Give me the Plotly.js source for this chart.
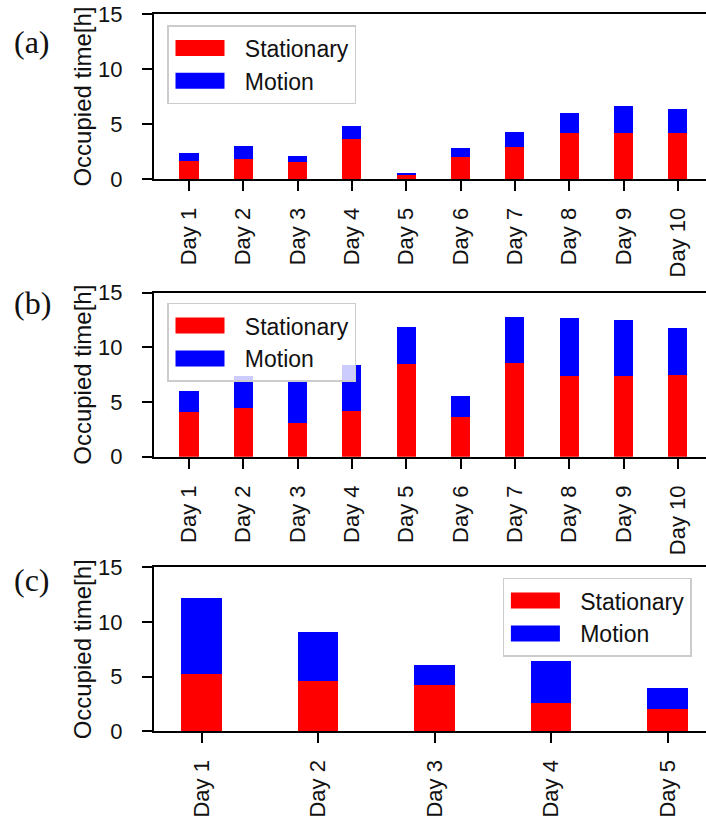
<!DOCTYPE html>
<html><head><meta charset="utf-8">
<script src="https://cdn.plot.ly/plotly-3.0.1.min.js"></script>
<style>
html,body{margin:0;padding:0;background:#fff;overflow:hidden}
#chart{width:706px;height:823px}
g.legendpoints path{ d: path("M17.7,8H-31.3V-8H17.7Z"); }
</style></head>
<body><div id="chart"></div>
<script>
// ---- data ----
const days10 = ['Day 1','Day 2','Day 3','Day 4','Day 5','Day 6','Day 7','Day 8','Day 9','Day 10'];
const days5 = ['Day 1','Day 2','Day 3','Day 4','Day 5'];
const seriesNames = ['Stationary','Motion'];
const aStationary = [1.65, 1.83, 1.55, 3.64, 0.36, 2.03, 2.94, 4.21, 4.21, 4.21];
const aMotion     = [0.68, 1.20, 0.51, 1.18, 0.16, 0.82, 1.30, 1.79, 2.40, 2.12];
const bStationary = [4.12, 4.42, 3.11, 4.21, 8.51, 3.63, 8.60, 7.41, 7.41, 7.50];
const bMotion     = [1.89, 2.99, 3.84, 4.18, 3.39, 1.89, 4.21, 5.28, 5.10, 4.30];
const cStationary = [5.21, 4.57, 4.24, 2.56, 2.07];
const cMotion     = [6.99, 4.51, 1.83, 3.87, 1.86];
const yTicks = [0, 5, 10, 15];
const panelLabels = ['(a)','(b)','(c)'];
const yTitle = 'Occupied time[h]';

// ---- styles ----
const RED = '#ff0000', BLUE = '#0000ff';
const SANS = 'Liberation Sans, Arial, sans-serif';
const SERIF = 'Liberation Serif, Times New Roman, serif';
const BARW = 0.35;
const PATCH = 'M17.7,8H-31.3V-8H17.7Z';

const panels = [
  {cats: days10, st: aStationary, mo: aMotion, xa: 'x',  ya: 'y',  lg: 'legend'},
  {cats: days10, st: bStationary, mo: bMotion, xa: 'x2', ya: 'y2', lg: 'legend2'},
  {cats: days5,  st: cStationary, mo: cMotion, xa: 'x3', ya: 'y3', lg: 'legend3'}
];

const traces = [];
panels.forEach(p => {
  traces.push({type:'bar', x:p.cats, y:p.st, name:seriesNames[0], xaxis:p.xa, yaxis:p.ya,
    legend:p.lg, width:BARW, marker:{color:RED, line:{width:0}}, hoverinfo:'y'});
  traces.push({type:'bar', x:p.cats, y:p.mo, name:seriesNames[1], xaxis:p.xa, yaxis:p.ya,
    legend:p.lg, width:BARW, marker:{color:BLUE, line:{width:0}}, hoverinfo:'y'});
});

function xAxis(range, anchor){
  return {type:'category', range:range, anchor:anchor, domain:[0,1],
    showline:true, mirror:true, linecolor:'#000', linewidth:2,
    ticks:'outside', ticklen:10, tickwidth:2, tickcolor:'#000',
    tickangle:-90, ticklabelstandoff:8,
    tickfont:{family:SANS, size:22, color:'#111'},
    showgrid:false, zeroline:false, fixedrange:true};
}
function yAxis(domain, anchor){
  return {domain:domain, anchor:anchor, range:[0,15], tickvals:yTicks,
    showline:true, mirror:false, linecolor:'#000', linewidth:2,
    ticks:'outside', ticklen:10, tickwidth:2, tickcolor:'#000', ticklabelstandoff:15,
    tickfont:{family:SANS, size:22, color:'#111'},
    title:{text:yTitle, font:{family:SANS, size:24, color:'#111'}, standoff:0},
    showgrid:false, zeroline:false, fixedrange:true};
}
function legendCfg(x, y){
  return {x:x, y:y, xanchor:'left', yanchor:'top', xref:'paper', yref:'paper',
    bgcolor:'rgba(255,255,255,0.8)', bordercolor:'#cccccc', borderwidth:1.5,
    font:{family:SANS, size:23, color:'#111'}, itemwidth:66, traceorder:'normal',
    tracegroupgap:0};
}

const H = 823, L = 154, W = 706;
const py = v => 1 - v / H;
const px = v => (v - L) / (W - L);

const layout = {
  width: W, height: H, margin:{l:L, r:0, t:0, b:0},
  paper_bgcolor:'#fff', plot_bgcolor:'#fff', barmode:'stack', bargap:0,
  showlegend:true,
  xaxis:  xAxis([-0.644, 9.516], 'y'),
  xaxis2: xAxis([-0.644, 9.516], 'y2'),
  xaxis3: xAxis([-0.408, 4.330], 'y3'),
  yaxis:  yAxis([py(179), py(14)], 'x'),
  yaxis2: yAxis([py(456.7), py(292.7)], 'x2'),
  yaxis3: yAxis([py(731.3), py(567.3)], 'x3'),
  legend:  legendCfg(px(167.3), py(25)),
  legend2: legendCfg(px(167.3), py(302.6)),
  legend3: legendCfg(px(502.7), py(577.6)),
  annotations: panelLabels.map((t, i) => ({
    text:t, xref:'paper', yref:'paper', x:px(32), y:py([42, 303, 580][i]),
    xanchor:'center', yanchor:'middle', showarrow:false,
    font:{family:SERIF, size:32, color:'#111'}
  }))
};

function widenPatches(){
  document.querySelectorAll('g.legendpoints path').forEach(p => p.setAttribute('d', PATCH));
}
Plotly.newPlot('chart', traces, layout, {displayModeBar:false, staticPlot:true}).then(widenPatches);
</script>
</body></html>
